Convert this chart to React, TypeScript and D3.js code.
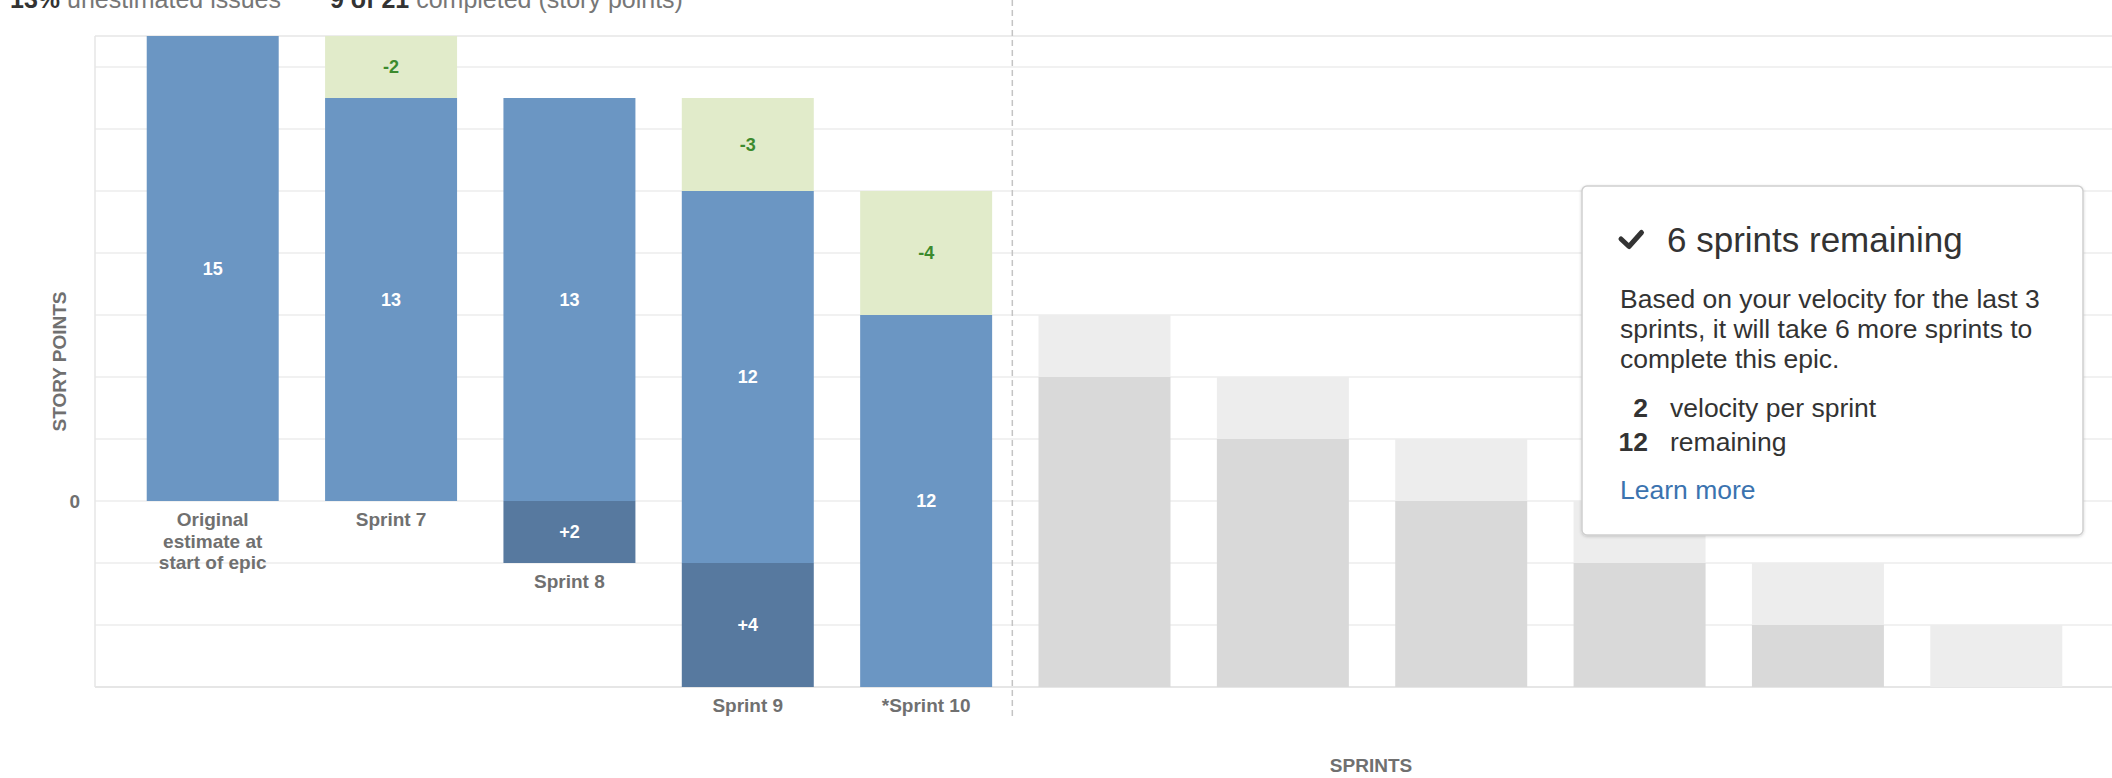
import React from "react";
import * as d3 from "d3";

// ---- data ----
const sprintIds = ["orig", "s7", "s8", "s9", "s10"];
const categoryLabels = [
  ["Original", "estimate at", "start of epic"],
  ["Sprint 7"],
  ["Sprint 8"],
  ["Sprint 9"],
  ["*Sprint 10"],
];
const completedPts = [0, 2, 0, 3, 4]; // green (scope completed)
const remainingPts = [15, 13, 13, 12, 12]; // blue
const addedPts = [0, 0, 2, 4, 0]; // dark blue (scope added)

const forecastIds = ["f1", "f2", "f3", "f4", "f5", "f6"];
const forecastCompleted = [2, 2, 2, 2, 2, 2]; // light gray
const forecastRemaining = [10, 8, 6, 4, 2, 0]; // gray

const yDomain = [-6, 15];
const gridStep = 2;
const yTickLabels = [0];

const W = 2112;
const H = 778;
const FONT = "'Liberation Sans', Arial, Helvetica, sans-serif";

export default function App() {
  const plotLeft = 95;
  const plotRight = 2114;
  const plotTop = 36;
  const plotBottom = 687;

  const y = d3.scaleLinear().domain(yDomain).range([plotBottom, plotTop]);
  const x = d3
    .scaleBand<string>()
    .domain([...sprintIds, ...forecastIds])
    .range([plotLeft, plotRight])
    .paddingInner(0.26)
    .paddingOuter(0.29);
  const bw = x.bandwidth();

  const gridVals = d3.range(yDomain[0], yDomain[1], gridStep);

  // offsets (stack base) from cumulative added scope
  const offsets: number[] = [];
  let cum = 0;
  addedPts.forEach((a) => {
    offsets.push(-cum);
    cum += a;
  });
  const forecastBase = -cum;

  const blue = "#6b96c3";
  const darkBlue = "#57799f";
  const green = "#e1ebca";
  const greenText = "#3c8a2e";
  const labelGray = "#707070";

  const lastSprintEnd = x(sprintIds[sprintIds.length - 1])! + bw;
  const dividerX = lastSprintEnd + (x.step() - bw) / 2 - 3;

  return (
    <svg
      width={W}
      height={H}
      style={{ position: "absolute", left: 0, top: 0, display: "block", background: "#fff" }}
      fontFamily={FONT}
    >
      <defs>
        <filter id="shadow" x="-5%" y="-5%" width="110%" height="115%">
          <feDropShadow dx="0" dy="1" stdDeviation="1.5" floodColor="#000" floodOpacity="0.18" />
        </filter>
      </defs>

      {/* header (cut off at the top edge, as in the reference) */}
      <text x={10} y={8} fontSize={25}>
        <tspan fontWeight="bold" fill="#333">13%</tspan>
        <tspan fill="#777"> unestimated issues</tspan>
        <tspan x={330} fontWeight="bold" fill="#333">9 of 21</tspan>
        <tspan fill="#777"> completed (story points)</tspan>
      </text>

      {/* grid */}
      {gridVals.map((v) => (
        <line key={v} x1={plotLeft} x2={W} y1={y(v)} y2={y(v)} stroke={v === yDomain[0] ? "#dedede" : "#ececec"} strokeWidth={1.5} />
      ))}
      <line x1={plotLeft} x2={W} y1={y(yDomain[1])} y2={y(yDomain[1])} stroke="#e6e6e6" strokeWidth={1.5} />
      <line x1={plotLeft} x2={plotLeft} y1={plotTop} y2={plotBottom} stroke="#e6e6e6" strokeWidth={1.5} />

      {/* y tick labels */}
      {yTickLabels.map((v) => (
        <text key={v} x={80} y={y(v) + 7} textAnchor="end" fontSize={19} fontWeight="bold" fill={labelGray}>
          {v}
        </text>
      ))}

      {/* axis titles */}
      <text
        transform={`translate(${66},${(plotTop + plotBottom) / 2}) rotate(-90)`}
        textAnchor="middle"
        fontSize={19}
        fontWeight="bold"
        fill={labelGray}
      >
        STORY POINTS
      </text>
      <text x={1371} y={772} textAnchor="middle" fontSize={19} fontWeight="bold" fill={labelGray}>
        SPRINTS
      </text>

      {/* sprint bars */}
      {sprintIds.map((id, i) => {
        const x0 = x(id)!;
        const cx = x0 + bw / 2;
        const base = offsets[i];
        const blueTop = base + remainingPts[i];
        const greenTop = blueTop + completedPts[i];
        const darkBottom = base - addedPts[i];
        const barBottom = darkBottom;
        return (
          <g key={id}>
            {completedPts[i] > 0 && (
              <g>
                <rect x={x0} y={y(greenTop)} width={bw} height={y(blueTop) - y(greenTop)} fill={green} />
                <text x={cx} y={(y(blueTop) + y(greenTop)) / 2 + 6} textAnchor="middle" fontSize={18} fontWeight="bold" fill={greenText}>
                  -{completedPts[i]}
                </text>
              </g>
            )}
            <rect x={x0} y={y(blueTop)} width={bw} height={y(base) - y(blueTop)} fill={blue} />
            <text x={cx} y={(y(blueTop) + y(base)) / 2 + 6} textAnchor="middle" fontSize={18} fontWeight="bold" fill="#fff">
              {remainingPts[i]}
            </text>
            {addedPts[i] > 0 && (
              <g>
                <rect x={x0} y={y(base)} width={bw} height={y(darkBottom) - y(base)} fill={darkBlue} />
                <text x={cx} y={(y(base) + y(darkBottom)) / 2 + 6} textAnchor="middle" fontSize={18} fontWeight="bold" fill="#fff">
                  +{addedPts[i]}
                </text>
              </g>
            )}
            <text textAnchor="middle" fontSize={19} fontWeight="bold" fill={labelGray}>
              {categoryLabels[i].map((ln, j) => (
                <tspan key={j} x={cx} y={y(barBottom) + 25 + j * 21.5}>
                  {ln}
                </tspan>
              ))}
            </text>
          </g>
        );
      })}

      {/* forecast bars */}
      {forecastIds.map((id, i) => {
        const x0 = x(id)!;
        const grayTop = forecastBase + forecastRemaining[i];
        const lightTop = grayTop + forecastCompleted[i];
        return (
          <g key={id}>
            <rect x={x0} y={y(lightTop)} width={bw} height={y(grayTop) - y(lightTop)} fill="#ededed" />
            {forecastRemaining[i] > 0 && (
              <rect x={x0} y={y(grayTop)} width={bw} height={y(forecastBase) - y(grayTop)} fill="#d9d9d9" />
            )}
          </g>
        );
      })}

      {/* divider */}
      <line x1={dividerX} x2={dividerX} y1={0} y2={720} stroke="#c4c4c4" strokeWidth={1.5} strokeDasharray="6 4" />

      {/* info box */}
      <g>
        <rect x={1582} y={186} width={501} height={349} rx={5} fill="#fff" stroke="#cfcfcf" strokeWidth={1.5} filter="url(#shadow)" />
        <path d="M1621,239 L1629,246.5 L1641.5,232.5" fill="none" stroke="#333" strokeWidth={5} strokeLinecap="round" strokeLinejoin="round" />
        <text x={1667} y={252} fontSize={35} fill="#333">6 sprints remaining</text>
        <text fontSize={26.5} fill="#333">
          <tspan x={1620} y={308}>Based on your velocity for the last 3</tspan>
          <tspan x={1620} y={338}>sprints, it will take 6 more sprints to</tspan>
          <tspan x={1620} y={368}>complete this epic.</tspan>
        </text>
        <text x={1648} y={417} fontSize={26.5} fontWeight="bold" fill="#333" textAnchor="end">2</text>
        <text x={1670} y={417} fontSize={26.5} fill="#333">velocity per sprint</text>
        <text x={1648} y={451} fontSize={26.5} fontWeight="bold" fill="#333" textAnchor="end">12</text>
        <text x={1670} y={451} fontSize={26.5} fill="#333">remaining</text>
        <text x={1620} y={499} fontSize={26.5} fill="#3b73af">Learn more</text>
      </g>
    </svg>
  );
}
